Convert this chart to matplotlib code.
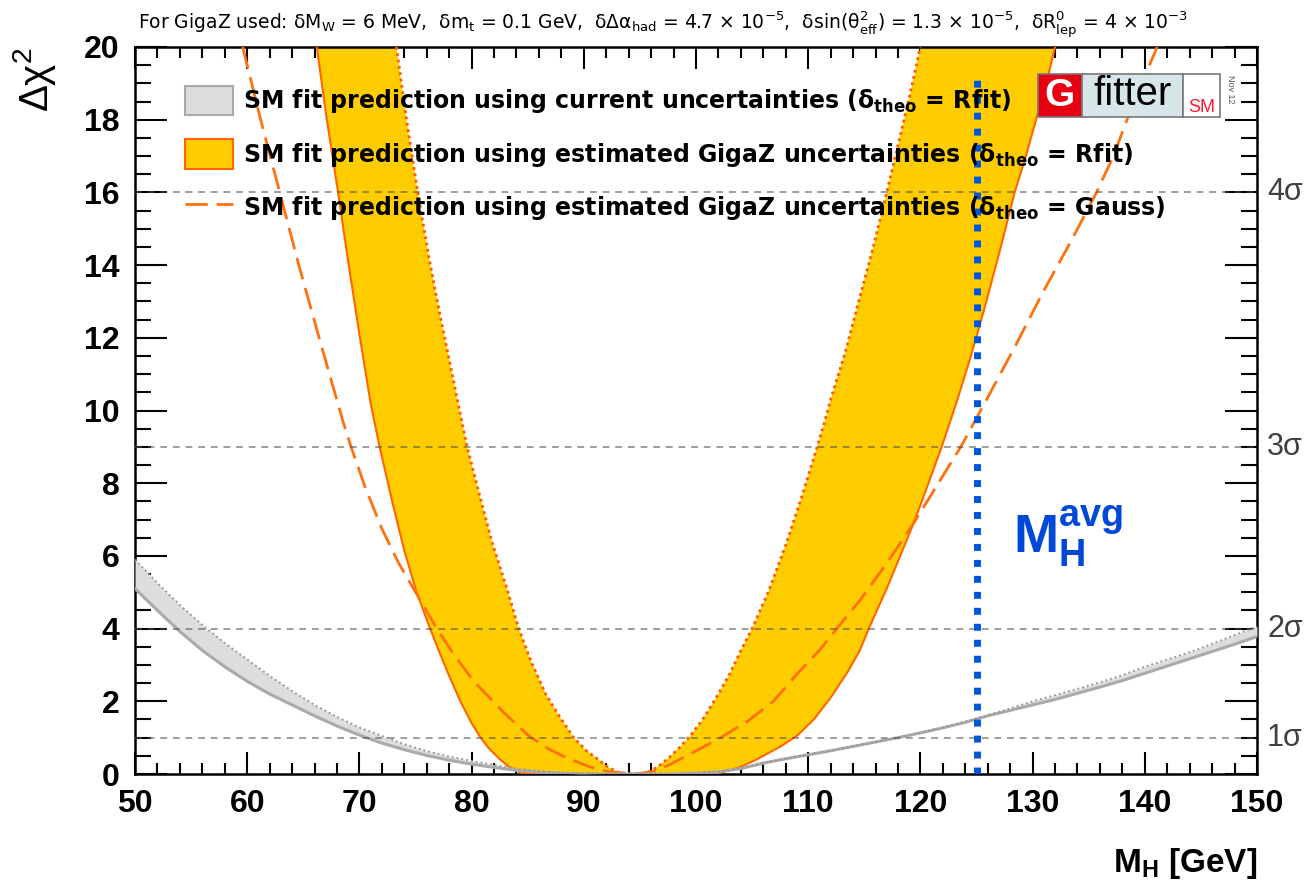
import numpy as np
import matplotlib
matplotlib.use('Agg')
import matplotlib.pyplot as plt
from matplotlib.patches import Patch, Rectangle
from matplotlib.lines import Line2D

plt.rcParams['font.family'] = ['Liberation Sans', 'DejaVu Sans']
plt.rcParams['mathtext.fontset'] = 'custom'
plt.rcParams['mathtext.rm'] = 'Liberation Sans'
plt.rcParams['mathtext.it'] = 'Liberation Sans:italic'
plt.rcParams['mathtext.bf'] = 'Liberation Sans:bold'
plt.rcParams['mathtext.sf'] = 'Liberation Sans'
plt.rcParams['mathtext.default'] = 'regular'

# current uncertainties (Rfit), grey band
mh_grey = [50, 52, 54, 56, 58, 60, 62, 64, 66, 68, 70, 72, 74, 76, 78, 80, 82, 84, 86, 88,
           90, 92, 94, 96, 98, 100, 102, 104, 106, 108, 110, 112, 114, 116, 118, 120, 122,
           124, 126, 128, 130, 132, 134, 136, 138, 140, 142, 144, 146, 148, 150]
grey_low = [5.1, 4.5, 3.92, 3.4, 2.95, 2.55, 2.2, 1.9, 1.6, 1.32, 1.07, 0.85, 0.67, 0.51, 0.38,
            0.27, 0.18, 0.1, 0.05, 0.02, 0.0, 0.0, 0.0, 0.0, 0.0, 0.02, 0.06, 0.15, 0.3, 0.42,
            0.53, 0.64, 0.76, 0.88, 1.0, 1.13, 1.27, 1.42, 1.6, 1.75, 1.9, 2.05, 2.22, 2.39,
            2.57, 2.77, 2.97, 3.17, 3.37, 3.57, 3.78]
grey_high = [5.9, 5.25, 4.65, 4.1, 3.6, 3.15, 2.7, 2.28, 1.9, 1.57, 1.28, 1.05, 0.82, 0.63, 0.48,
             0.36, 0.25, 0.15, 0.08, 0.03, 0.01, 0.0, 0.0, 0.0, 0.0, 0.02, 0.06, 0.15, 0.3, 0.42,
             0.53, 0.64, 0.76, 0.88, 1.0, 1.14, 1.28, 1.44, 1.62, 1.8, 2.0, 2.17, 2.34, 2.52,
             2.72, 2.95, 3.15, 3.35, 3.58, 3.82, 4.06]

# GigaZ Rfit band: outer (solid) edge
mh_outer = [66.2, 67.1, 68.1, 69.0, 70.0, 71.0, 71.8, 73.0, 74.0, 75.1, 76.3, 77.2, 78.0, 79.0,
            80.0, 80.8, 81.5, 82.4, 83.3, 84.4, 85.5, 90.0, 95.0, 100.0, 101.9, 103.0, 104.0,
            105.4, 106.0, 107.5, 109.0, 110.5, 112.0, 113.5, 114.6, 115.4, 117.0, 118.2, 119.4,
            120.6, 121.9, 123.3, 124.5, 125.7, 127.0, 128.4, 129.4, 130.4, 131.3, 132.0]
chi2_outer = [20.0, 18.0, 16.0, 14.1, 12.1, 10.2, 9.0, 7.4, 6.15, 5.0, 4.0, 3.3, 2.7, 2.0,
              1.4, 1.0, 0.72, 0.44, 0.2, 0.03, 0.0, 0.0, 0.0, 0.0, 0.02, 0.1, 0.2,
              0.4, 0.5, 0.75, 1.05, 1.5, 2.1, 2.8, 3.4, 4.0, 5.1, 6.0, 6.9,
              7.9, 9.0, 10.3, 11.5, 12.8, 14.3, 16.0, 17.0, 18.1, 19.1, 20.0]

# GigaZ Rfit band: inner (dotted) edge
mh_inner = [73.3, 74.2, 75.2, 76.2, 77.2, 78.2, 79.1, 79.6, 80.6, 81.8, 83.2, 84.2, 85.3, 86.6,
            87.8, 89.1, 90.2, 91.2, 92.2, 93.2, 94.5, 95.6, 96.6, 97.6, 98.5, 99.35, 100.6,
            101.8, 103.0, 104.0, 105.0, 106.5, 108.0, 109.5, 110.8, 111.5, 112.0, 113.3, 114.5,
            115.8, 117.0, 118.0, 119.0, 120.0]
chi2_inner = [20.0, 18.0, 16.0, 14.2, 12.6, 11.1, 9.74, 9.0, 7.8, 6.4, 5.05, 4.0, 3.1, 2.2,
              1.6, 1.0, 0.65, 0.42, 0.18, 0.03, 0.0, 0.02, 0.2, 0.45, 0.72, 1.0, 1.5,
              2.1, 2.75, 3.4, 4.0, 5.05, 6.3, 7.7, 9.0, 9.73, 10.3, 11.6, 13.0,
              14.5, 16.0, 17.3, 18.6, 20.0]

# GigaZ Gauss curve
mh_gauss = [59.6, 61.2, 62.9, 64.6, 66.5, 68.5, 69.2, 70.5, 72.0, 73.5, 75.1, 76.9, 78.5, 80.2,
            82.9, 85.1, 86.8, 88.5, 90.5, 92.1, 94.5, 96.2, 97.8, 99.35, 101.0, 102.2, 104.6,
            106.9, 109.0, 111.0, 112.55, 114.6, 117.0, 119.4, 121.5, 123.6, 125.9, 128.5,
            131.0, 133.5, 135.7, 137.2, 138.5, 140.0, 141.1]
chi2_gauss = [20.0, 18.0, 16.0, 14.0, 11.9, 9.74, 9.05, 7.9, 6.75, 5.8, 4.95, 4.0, 3.25, 2.55,
              1.68, 1.05, 0.7, 0.44, 0.2, 0.07, 0.0, 0.07, 0.28, 0.53, 0.8, 1.0, 1.45,
              2.0, 2.75, 3.4, 4.0, 4.77, 5.8, 6.9, 7.95, 9.0, 10.3, 11.8,
              13.3, 14.7, 16.0, 17.0, 18.07, 19.2, 20.0]

sigma_levels = [1, 4, 9, 16]
sigma_labels = ['1σ', '2σ', '3σ', '4σ']
mh_avg = 125.0
mh_avg_top = 19.2

title = ('For GigaZ used: δM$_W$ = 6 MeV,  δm$_t$ = 0.1 GeV,  δΔα$_{had}$ = 4.7 × 10$^{-5}$,  '
         'δsin(θ$^2_{eff}$) = 1.3 × 10$^{-5}$,  δR$^0_{lep}$ = 4 × 10$^{-3}$')

W, H = 1312, 884
fig = plt.figure(figsize=(W / 100, H / 100), dpi=100)
ax = fig.add_axes([135 / W, (H - 774) / H, 1122 / W, 727 / H])

yellow = '#ffcc00'
orange = '#ff6600'

# yellow band as polygon: outer edge left->right, inner edge back
band_x = list(mh_outer) + list(mh_inner[::-1])
band_y = list(chi2_outer) + list(chi2_inner[::-1])
ax.fill(band_x, band_y, color=yellow, lw=0, zorder=2)
ax.plot(mh_outer, chi2_outer, color=orange, lw=1.5, zorder=3)
ax.plot(mh_inner, chi2_inner, color='#ff5a00', lw=2.0, ls=(0, (1, 1.3)), zorder=3)
ax.plot(mh_gauss, chi2_gauss, color='#ff7010', lw=2.0, ls=(0, (8, 3.2)), zorder=4)

# grey band
ax.fill_between(mh_grey, grey_low, grey_high, color='#dddddd', lw=0, zorder=5)
ax.plot(mh_grey, grey_low, color='#aaaaaa', lw=2.2, zorder=6)
ax.plot(mh_grey, grey_high, color='#999999', lw=1.4, ls=(0, (1, 1.5)), zorder=6)

for lev in sigma_levels:
    ax.axhline(lev, color='#4d4d4d', alpha=0.55, lw=1.4, ls=(0, (3.5, 3)), zorder=7)

ax.plot([mh_avg, mh_avg], [0, mh_avg_top], color='#0055dd', lw=5,
        ls=(0, (1, 1.3)), dash_capstyle='butt', zorder=8)
ax.text(128.25, 6.08, r'$\mathbf{M_H^{avg}}$', color='#0048d8', fontsize=39,
        ha='left', va='baseline', zorder=9)

ax.set_xlim(50, 150)
ax.set_ylim(0, 20)
ax.set_xticks(np.arange(50, 151, 10))
ax.set_xticks(np.arange(50, 151, 2), minor=True)
ax.set_yticks(np.arange(0, 21, 2))
ax.set_yticks(np.arange(0, 20.01, 0.5), minor=True)
ax.tick_params(which='both', direction='in', top=True, right=True, width=1.5,
               labelsize=23, pad=11, color='black')
ax.tick_params(axis='y', which='major', length=23)
ax.tick_params(axis='y', which='minor', length=11.5)
ax.tick_params(axis='x', which='major', length=16)
ax.tick_params(axis='x', which='minor', length=8)
for lab in ax.get_xticklabels() + ax.get_yticklabels():
    lab.set_fontweight('bold')
for sp in ax.spines.values():
    sp.set_linewidth(1.8)

ax.set_xlabel(r'$\mathbf{M_H}$ [GeV]', fontsize=24, fontweight='bold', loc='right', labelpad=19)
ax.set_ylabel(r'$\Delta\chi^2$', fontsize=29, loc='top', labelpad=19)

for lev, lab in zip(sigma_levels, sigma_labels):
    ax.text(1.009, lev, lab, transform=ax.get_yaxis_transform(), fontsize=22,
            color='#404040', ha='left', va='center')

handles = [Patch(facecolor='#dcdcdc', edgecolor='#aaaaaa', lw=1.5),
           Patch(facecolor=yellow, edgecolor=orange, lw=1.5),
           Line2D([0], [0], color='#ff7010', lw=2.0, ls=(0, (8, 3.2)))]
labels = [r'SM fit prediction using current uncertainties ($\delta_{theo}$ = Rfit)',
          r'SM fit prediction using estimated GigaZ uncertainties ($\delta_{theo}$ = Rfit)',
          r'SM fit prediction using estimated GigaZ uncertainties ($\delta_{theo}$ = Gauss)']
leg = ax.legend(handles, labels, loc='upper left', bbox_to_anchor=(0.0446, 0.947),
                frameon=False,
                prop={'family': ['DejaVu Sans'], 'weight': 'bold', 'size': 17},
                borderpad=0, borderaxespad=0, handlelength=2.03, handleheight=1.57,
                handletextpad=0.42, labelspacing=1.0)
leg.set_zorder(10)

fig.text(138 / W, 1 - 30 / H, title, fontsize=13.5, family=['DejaVu Sans'],
         ha='left', va='baseline')

# Gfitter logo
def px_rect(x0, y0, x1, y1, **kw):
    fig.patches.append(Rectangle((x0 / W, 1 - y1 / H), (x1 - x0) / W, (y1 - y0) / H,
                                 transform=fig.transFigure, **kw))

px_rect(1038, 74, 1082, 117, facecolor='#e60012', edgecolor='#777777', lw=1.2, zorder=20)
px_rect(1082, 74, 1183, 117, facecolor='#d7e6e8', edgecolor='#777777', lw=1.2, zorder=20)
px_rect(1183, 74, 1220, 117, facecolor='white', edgecolor='#777777', lw=1.2, zorder=20)
fig.text(1060 / W, 1 - 96 / H, 'G', color='white', fontsize=28, fontweight='bold',
         ha='center', va='center', zorder=21)
fig.text(1132 / W, 1 - 94 / H, 'fitter', color='black', fontsize=29,
         ha='center', va='center', zorder=21)
fig.text(1202 / W, 1 - 112 / H, 'SM', color='#ff1a33', fontsize=13,
         ha='center', va='baseline', zorder=21)
fig.text(1231 / W, 1 - 89 / H, 'Nov 12', color='#555555', fontsize=6.5, rotation=-90,
         ha='center', va='center', zorder=21)

fig.savefig('out.png', dpi=100)
